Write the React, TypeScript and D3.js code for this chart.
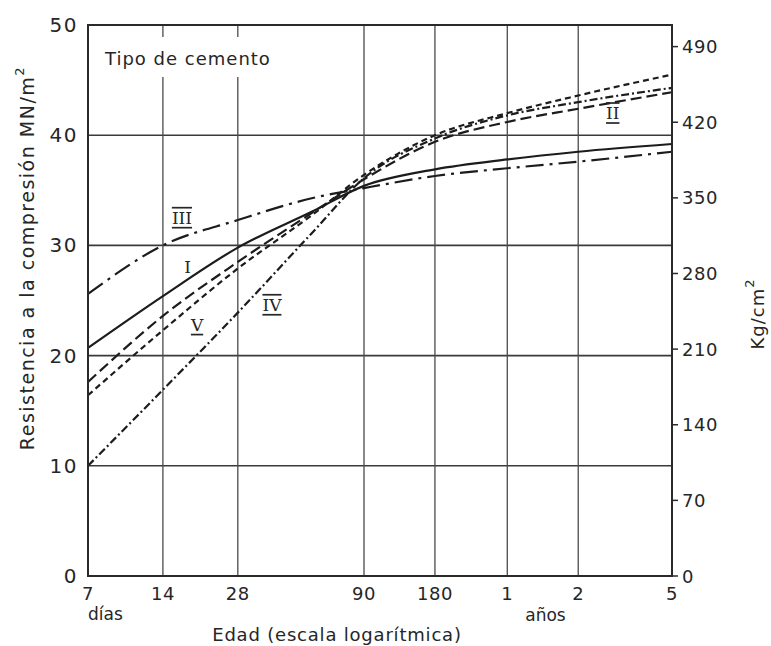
import React from 'react';
import * as d3 from 'd3';

// Age in days at which strengths are read
const days = [7, 14, 28, 56, 90, 180, 365, 730, 1825];

// Compressive strength (MN/m²) by cement type
const typeI = [20.7, 25.4, 29.8, 33.1, 35.4, 36.9, 37.8, 38.5, 39.2];
const typeII = [17.6, 23.6, 28.5, 33.0, 36.0, 39.4, 41.2, 42.4, 43.9];
const typeIII = [25.6, 30.0, 32.3, 34.3, 35.2, 36.3, 37.0, 37.6, 38.5];
const typeIV = [10.0, 16.9, 23.9, 31.2, 36.1, 39.7, 41.8, 43.0, 44.3];
const typeV = [16.4, 22.3, 27.9, 32.8, 36.4, 40.0, 42.0, 43.6, 45.5];

const seriesNames = ['I', 'II', 'III', 'IV', 'V'];

// Curve label anchors (day, MN/m²)
const labelDays = [17.6, 1023, 16.7, 38.4, 19.2];
const labelValues = [28.0, 42.0, 32.5, 24.6, 22.8];

// Axis ticks
const xTickDays = [7, 14, 28, 90, 180, 365, 730, 1825];
const xTickLabels = ['7', '14', '28', '90', '180', '1', '2', '5'];
const xGridDays = [14, 28, 90, 180, 365, 730];
const yTicksMN = [0, 10, 20, 30, 40, 50];
const yGridMN = [10, 20, 30, 40];
const yTicksKg = [0, 70, 140, 210, 280, 350, 420, 490];

const W = 771;
const H = 646;
const left = 88;
const right = 672;
const top = 25;
const bottom = 576;

const ink = '#262626';
const sans = '"DejaVu Sans", sans-serif';
const serif = '"DejaVu Serif", "Liberation Serif", serif';

const dashes: Record<string, string> = {
  I: 'none',
  II: '11,5',
  III: '18,6,3,6',
  IV: '8,3,2,3',
  V: '6,4',
};

export default function App() {
  const x = d3.scaleLog().domain([7, 90, 1825]).range([left, 364, right]);
  const y = d3.scaleLinear().domain([0, 50]).range([bottom, top]);
  const yKg = d3.scaleLinear().domain([0, 510]).range([bottom, top]);

  const seriesValues = [typeI, typeII, typeIII, typeIV, typeV];
  const series = seriesNames.map((name, i) => ({
    name,
    points: days.map((d, j) => [d, seriesValues[i][j]] as [number, number]),
    lx: x(labelDays[i]),
    ly: y(labelValues[i]),
  }));

  const line = d3
    .line<[number, number]>()
    .x((d) => x(d[0]))
    .y((d) => y(d[1]))
    .curve(d3.curveMonotoneX);

  return (
    <svg
      width={W}
      height={H}
      viewBox={`0 0 ${W} ${H}`}
      style={{ position: 'absolute', left: 0, top: 0, background: '#fff' }}
    >
      {/* grid */}
      {yGridMN.map((v) => (
        <line key={'h' + v} x1={left} x2={right} y1={y(v)} y2={y(v)} stroke="#3a3a3a" strokeWidth={1.6} />
      ))}
      {xGridDays.map((d) => (
        <line key={'v' + d} x1={x(d)} x2={x(d)} y1={top} y2={bottom} stroke="#4a4a4a" strokeWidth={1.3} />
      ))}

      {/* title box */}
      <rect x={97} y={37} width={193} height={40} fill="#fff" />
      <text x={105} y={65} fontFamily={sans} fontSize={18} letterSpacing={1} fill={ink}>
        Tipo de cemento
      </text>

      {/* curves */}
      {series.map((s) => (
        <path
          key={s.name}
          d={line(s.points) || ''}
          fill="none"
          stroke="#1c1c1c"
          strokeWidth={2.2}
          strokeDasharray={dashes[s.name]}
        />
      ))}

      {/* curve labels */}
      {series.map((s) => (
        <text
          key={'l' + s.name}
          x={s.lx}
          y={s.ly}
          textAnchor="middle"
          dominantBaseline="central"
          fontFamily={serif}
          fontSize={17}
          fill={ink}
          style={{ textDecoration: s.name === 'I' ? 'none' : s.name === 'V' ? 'underline' : 'overline underline' }}
        >
          {s.name}
        </text>
      ))}

      {/* frame */}
      <rect x={left} y={top} width={right - left} height={bottom - top} fill="none" stroke="#2a2a2a" strokeWidth={2} />

      {/* left axis labels */}
      {yTicksMN.map((v) => (
        <text
          key={'ly' + v}
          x={78}
          y={y(v)}
          textAnchor="end"
          dominantBaseline="central"
          fontFamily={sans}
          fontSize={20}
          letterSpacing={1.5}
          fill={ink}
        >
          {v}
        </text>
      ))}

      {/* right axis ticks and labels */}
      {yTicksKg.map((v) => (
        <g key={'ry' + v}>
          <line x1={right} x2={right + 6} y1={yKg(v)} y2={yKg(v)} stroke="#2a2a2a" strokeWidth={1.5} />
          <text
            x={682}
            y={yKg(v)}
            dominantBaseline="central"
            fontFamily={sans}
            fontSize={18}
            letterSpacing={0.5}
            fill={ink}
          >
            {v}
          </text>
        </g>
      ))}

      {/* bottom axis labels */}
      {xTickDays.map((d, i) => (
        <text
          key={'bx' + d}
          x={x(d)}
          y={600}
          textAnchor="middle"
          fontFamily={sans}
          fontSize={18}
          letterSpacing={0.5}
          fill={ink}
        >
          {xTickLabels[i]}
        </text>
      ))}
      <text x={x(7)} y={620} fontFamily={sans} fontSize={17} fill={ink}>
        días
      </text>
      <text x={x(530)} y={621} textAnchor="middle" fontFamily={sans} fontSize={17} fill={ink}>
        años
      </text>
      <text x={337} y={641} textAnchor="middle" fontFamily={sans} fontSize={18} letterSpacing={0.8} fill={ink}>
        Edad (escala logarítmica)
      </text>

      {/* axis titles */}
      <text
        transform={`translate(27, 258) rotate(-90)`}
        textAnchor="middle"
        dominantBaseline="central"
        fontFamily={sans}
        fontSize={19}
        letterSpacing={1.5}
        fill={ink}
      >
        Resistencia a la compresión{'  '}MN/m
        <tspan dy={-8} fontSize={13}>2</tspan>
      </text>
      <text
        transform={`translate(757, 314) rotate(-90)`}
        textAnchor="middle"
        dominantBaseline="central"
        fontFamily={sans}
        fontSize={18}
        letterSpacing={1}
        fill={ink}
      >
        Kg/cm
        <tspan dy={-8} fontSize={13}>2</tspan>
      </text>
    </svg>
  );
}
